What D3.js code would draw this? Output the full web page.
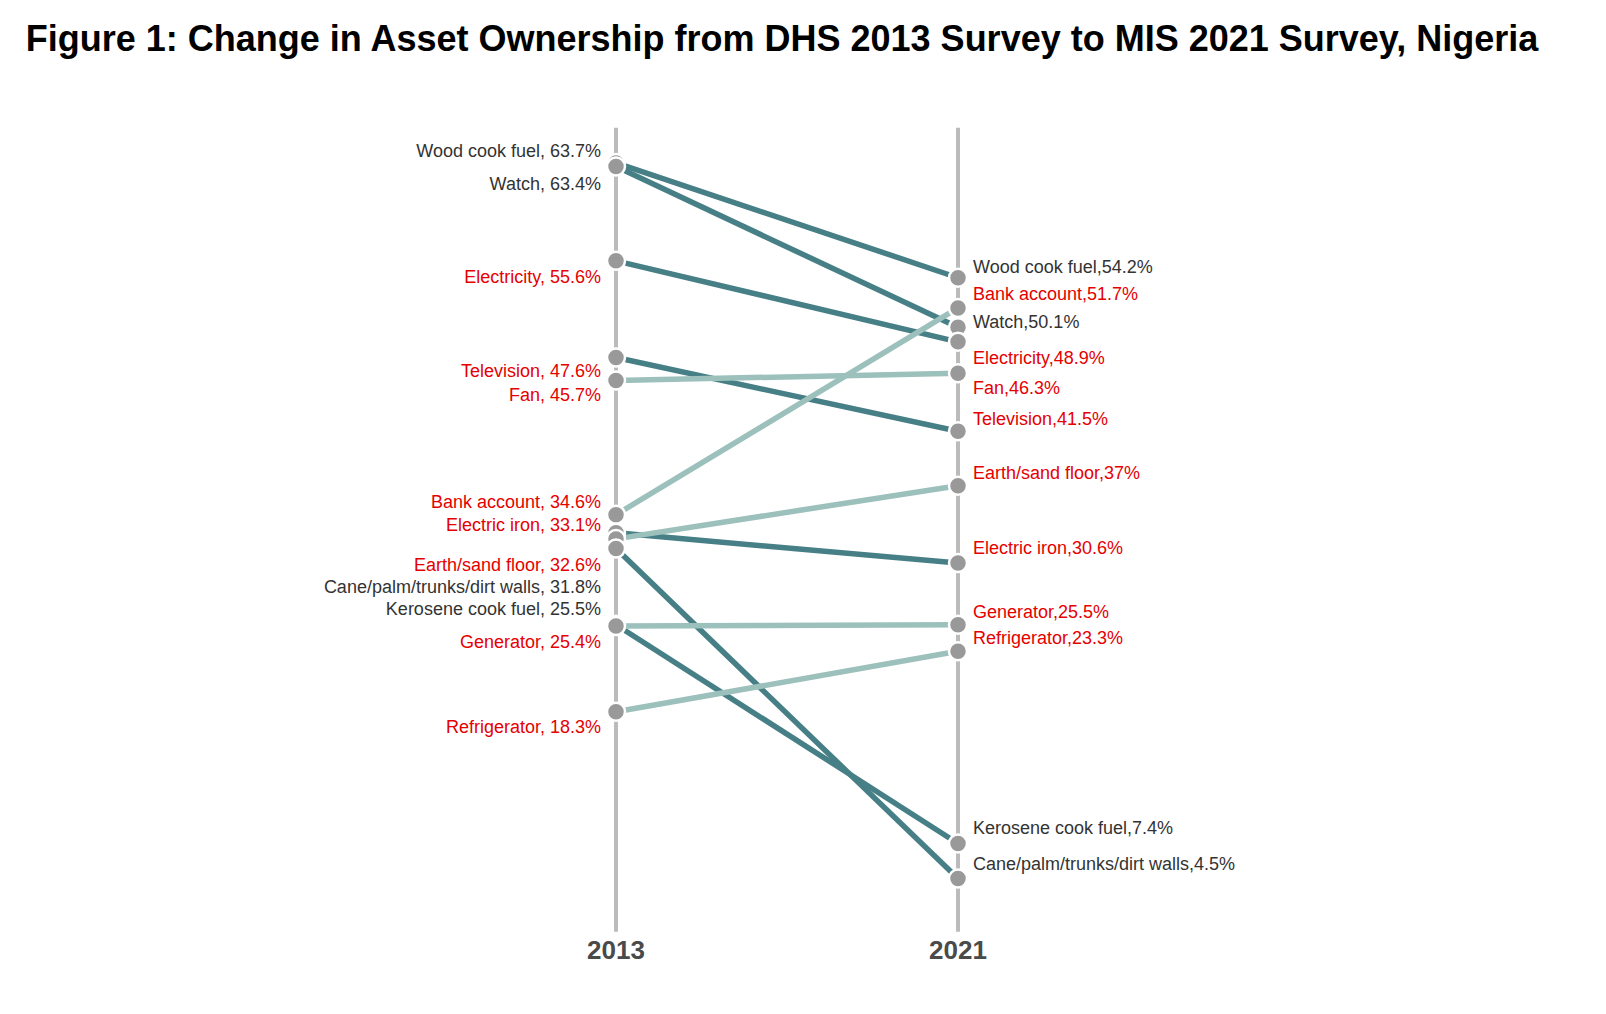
<!DOCTYPE html>
<html>
<head>
<meta charset="utf-8">
<script src="https://cdn.jsdelivr.net/npm/d3@7"></script>
<style>
  html, body { margin: 0; padding: 0; overflow: hidden; background: #fff; font-family: "Liberation Sans", Arial, Helvetica, sans-serif; }
  svg { display: block; }
</style>
</head>
<body>
<div id="chart"></div>
<script>
"use strict";
// data
var assets = ["Wood cook fuel", "Watch", "Electricity", "Television", "Fan", "Bank account",
  "Electric iron", "Earth/sand floor", "Cane/palm/trunks/dirt walls", "Kerosene cook fuel",
  "Generator", "Refrigerator"];
var years = ["2013", "2021"];
var values2013 = [63.7, 63.4, 55.6, 47.6, 45.7, 34.6, 33.1, 32.6, 31.8, 25.5, 25.4, 18.3];
var values2021 = [54.2, 50.1, 48.9, 41.5, 46.3, 51.7, 30.6, 37, 4.5, 7.4, 25.5, 23.3];
// red labels = household assets, dark = the rest
var highlighted = [false, false, true, true, true, true, true, true, false, false, true, true];

// label nudges so they don't pile on each other (px from the dot)
var leftDy = [-12, 17, 16, 13, 14, -13, -8, 26, 38, -16, 16, 15];
var rightDy = [-11, -5, 16, -12, 15, -14, -15, -13, -15, -16, -13, -13];

var width = 1606, height = 1014;
var svg = d3.select("#chart").append("svg")
  .attr("width", width)
  .attr("height", height);

svg.append("text")
  .attr("x", 782)
  .attr("y", 38)
  .attr("text-anchor", "middle")
  .attr("dominant-baseline", "central")
  .style("font-weight", "bold")
  .style("font-size", "36px")
  .style("fill", "#000")
  .text("Figure 1: Change in Asset Ownership from DHS 2013 Survey to MIS 2021 Survey, Nigeria");

var x = d3.scalePoint().domain(years).range([616, 958]);
var y = d3.scaleLinear().domain([0, 67]).range([933, 123]);

var rows = assets.map(function (a, i) {
  return { name: a, v0: values2013[i], v1: values2021[i], red: highlighted[i], dy0: leftDy[i], dy1: rightDy[i] };
});

// vertical year axes
svg.selectAll("line.axis")
  .data(years).enter()
  .append("line")
  .attr("class", "axis")
  .attr("x1", function (d) { return x(d); })
  .attr("x2", function (d) { return x(d); })
  .attr("y1", y(66.6))
  .attr("y2", y(0.1))
  .attr("stroke", "#bbbbbb")
  .attr("stroke-width", 4);

svg.selectAll("text.year")
  .data(years).enter()
  .append("text")
  .attr("class", "year")
  .attr("x", function (d) { return x(d); })
  .attr("y", 950)
  .attr("text-anchor", "middle")
  .attr("dominant-baseline", "central")
  .style("font-size", "26px")
  .style("font-weight", "bold")
  .style("fill", "#4a4a4a")
  .text(function (d) { return d; });

// slopes
svg.selectAll("line.slope")
  .data(rows).enter()
  .append("line")
  .attr("class", "slope")
  .attr("x1", x("2013"))
  .attr("x2", x("2021"))
  .attr("y1", function (d) { return y(d.v0); })
  .attr("y2", function (d) { return y(d.v1); })
  .attr("stroke", function (d) { return d.v1 >= d.v0 ? "#9cc0bb" : "#477f86"; })
  .attr("stroke-width", 5.5);

// dots
[["2013", "v0"], ["2021", "v1"]].forEach(function (p) {
  svg.selectAll("circle.d" + p[0])
    .data(rows).enter()
    .append("circle")
    .attr("class", "d" + p[0])
    .attr("cx", x(p[0]))
    .attr("cy", function (d) { return y(d[p[1]]); })
    .attr("r", 9)
    .attr("fill", "#999999")
    .attr("stroke", "#fff")
    .attr("stroke-width", 2.5);
});

// labels
svg.selectAll("text.lab0")
  .data(rows).enter()
  .append("text")
  .attr("class", "lab0")
  .attr("x", x("2013") - 15)
  .attr("y", function (d) { return y(d.v0) + d.dy0; })
  .attr("text-anchor", "end")
  .attr("dominant-baseline", "central")
  .style("font-size", "18px")
  .style("fill", function (d) { return d.red ? "#e60000" : "#333"; })
  .text(function (d) { return d.name + ", " + d.v0 + "%"; });

svg.selectAll("text.lab1")
  .data(rows).enter()
  .append("text")
  .attr("class", "lab1")
  .attr("x", x("2021") + 15)
  .attr("y", function (d) { return y(d.v1) + d.dy1; })
  .attr("text-anchor", "start")
  .attr("dominant-baseline", "central")
  .style("font-size", "18px")
  .style("fill", function (d) { return d.red ? "#e60000" : "#333"; })
  .text(function (d) { return d.name + "," + d.v1 + "%"; });
</script>
</body>
</html>
